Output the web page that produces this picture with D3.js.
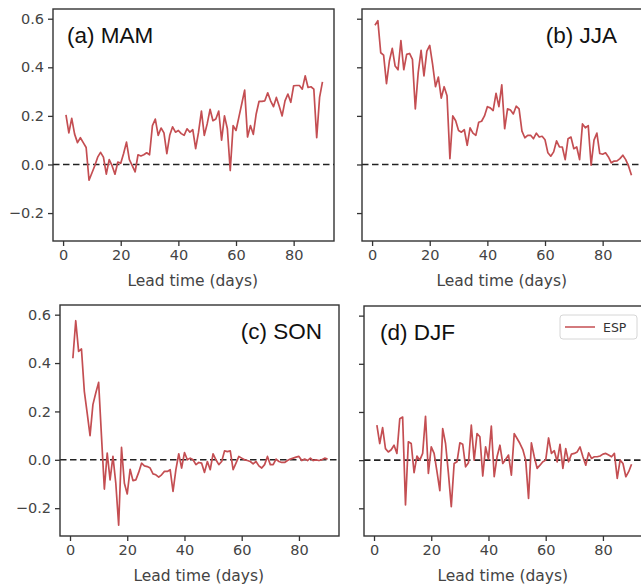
<!DOCTYPE html>
<html>
<head>
<meta charset="utf-8">
<script src="https://cdn.jsdelivr.net/npm/d3@7"></script>
<style>
  body { margin: 0; background: #fff; }
  .tick text { font-family: "DejaVu Sans", sans-serif; font-size: 14.5px; fill: #444; }
  .xlabel { font-family: "DejaVu Sans", sans-serif; font-size: 15.5px; fill: #444; }
  .ptitle { font-family: "Liberation Sans", Arial, sans-serif; font-size: 22.5px; fill: #111; }
  .legend text { font-family: "DejaVu Sans", sans-serif; font-size: 12.5px; fill: #333; }
</style>
</head>
<body>
<div id="chart"></div>
<script>
var width = 641,
    height = 585;

// lead time 1..90 days
var leadDays = d3.range(1, 91);

var mam = [0.204,0.13,0.19,0.125,0.09,0.11,0.09,0.07,-0.065,-0.035,
  -0.005,0.03,0.05,0.03,-0.04,0.02,-0.005,-0.04,0.01,0.005,
  0.045,0.092,0.02,-0.005,-0.03,0.04,0.035,0.04,0.048,0.04,
  0.16,0.187,0.12,0.15,0.13,0.045,0.12,0.155,0.133,0.14,
  0.127,0.12,0.147,0.133,0.143,0.065,0.133,0.22,0.12,0.167,
  0.227,0.18,0.187,0.22,0.1,0.2,0.147,-0.025,0.16,0.14,
  0.195,0.25,0.306,0.113,0.16,0.124,0.208,0.26,0.26,0.262,
  0.295,0.262,0.238,0.276,0.24,0.2,0.262,0.29,0.256,0.324,
  0.325,0.325,0.31,0.365,0.317,0.32,0.31,0.11,0.276,0.34];

var jja = [0.573,0.592,0.46,0.45,0.333,0.426,0.478,0.405,0.39,0.51,
  0.39,0.453,0.457,0.433,0.229,0.378,0.47,0.365,0.467,0.49,
  0.412,0.32,0.36,0.273,0.32,0.283,0.024,0.2,0.18,0.14,
  0.133,0.143,0.079,0.151,0.129,0.12,0.174,0.178,0.2,0.238,
  0.233,0.222,0.293,0.238,0.328,0.147,0.229,0.224,0.208,0.24,
  0.229,0.137,0.11,0.12,0.12,0.106,0.129,0.113,0.116,0.102,
  0.048,0.034,0.052,0.097,0.072,0.072,0.02,0.106,0.113,0.065,
  0.072,0.02,0.167,0.151,0.16,-0.003,0.1,0.129,0.045,0.042,
  0.048,0.031,0.007,0.014,0.015,0.024,0.038,0.02,-0.007,-0.044];

var son = [0.42,0.575,0.448,0.458,0.283,0.193,0.1,0.228,0.276,0.32,
  0.097,-0.121,0.028,-0.083,0.014,-0.097,-0.27,0.051,-0.097,-0.141,
  -0.039,-0.086,-0.083,-0.052,-0.014,-0.025,-0.028,-0.034,-0.058,-0.062,
  -0.072,-0.062,-0.048,-0.048,-0.041,-0.131,-0.041,0.025,-0.034,0.03,
  0,0.007,0,-0.02,-0.011,-0.014,-0.052,-0.007,-0.041,0.025,
  0,-0.02,-0.007,0.037,0.034,0.037,-0.041,-0.014,0.014,0.007,
  0,-0.003,-0.007,-0.017,-0.007,-0.025,-0.034,-0.02,0.014,-0.02,
  -0.02,0.003,-0.007,-0.011,-0.011,-0.003,0.003,0.007,0.011,0.014,
  -0.003,0.003,-0.003,0.007,-0.003,0,-0.003,0,0.007,0.003];

var djf = [0.145,0.069,0.135,0.048,0.034,0.043,0.062,0.028,0.172,0.179,
  -0.186,0.076,0.069,-0.052,0.017,0,0.028,0.182,-0.055,0.055,
  0.028,-0.048,-0.127,0.131,0.069,-0.055,-0.193,-0.014,-0.007,0.072,
  0.066,-0.028,-0.011,0.145,0,0.11,0.097,-0.066,0.055,0.003,
  0.141,-0.069,0.014,0.062,-0.014,0.003,0.021,-0.062,0.11,0.09,
  0.069,0.044,0,-0.159,0.072,0.014,-0.034,-0.021,-0.007,0,
  0.092,0.028,0.039,-0.007,0.066,-0.034,0.048,-0.007,0.025,0.028,
  0.034,0.055,0.014,-0.021,0.03,0.007,0.014,0.014,0.017,0.025,
  0.028,0.021,0.014,0.028,-0.076,0,-0.014,-0.069,-0.048,-0.017];

var panelTitles = ["(a) MAM", "(b) JJA", "(c) SON", "(d) DJF"];
var panelSeries = [mam, jja, son, djf];
var yTicks = [-0.2, 0.0, 0.2, 0.4, 0.6];
var xTicks = [0, 20, 40, 60, 80];
var legendLabel = "ESP";
var xLabel = "Lead time (days)";

// layout of the four axes boxes
var boxes = [
  {left: 53,  top: 9,   w: 281, h: 232, ylabels: true,  titleX: 14,  anchor: "start"},
  {left: 362, top: 9,   w: 281, h: 232, ylabels: false, titleX: 255, anchor: "end"},
  {left: 60,  top: 305, w: 279, h: 231, ylabels: true,  titleX: 262, anchor: "end"},
  {left: 364, top: 306, w: 279, h: 230, ylabels: false, titleX: 16,  anchor: "start"}
];

var lineColor = "#c44e52";

var svg = d3.select("#chart").append("svg")
    .attr("width", width)
    .attr("height", height);

boxes.forEach(function(b, i) {
  var x = d3.scaleLinear().domain([-3.5, 94]).range([0, b.w]);
  var y = d3.scaleLinear().domain([-0.315, 0.64]).range([b.h, 0]);

  var g = svg.append("g")
      .attr("transform", "translate(" + b.left + "," + b.top + ")");

  var data = leadDays.map(function(d, k) { return {day: d, v: panelSeries[i][k]}; });

  // zero reference
  g.append("line")
    .attr("x1", 0).attr("x2", b.w)
    .attr("y1", y(0)).attr("y2", y(0))
    .attr("stroke", "#222")
    .attr("stroke-width", 1.6)
    .attr("stroke-dasharray", "6.5,3.5");

  g.append("path")
    .datum(data)
    .attr("fill", "none")
    .attr("stroke", lineColor)
    .attr("stroke-width", 1.7)
    .attr("stroke-linejoin", "round")
    .attr("d", d3.line()
      .x(function(d) { return x(d.day); })
      .y(function(d) { return y(d.v); }));

  var xAxis = g.append("g")
      .attr("transform", "translate(0," + b.h + ")")
      .call(d3.axisBottom(x).tickValues(xTicks).tickSize(5).tickPadding(4)
        .tickFormat(d3.format("d")));

  var yAxis = g.append("g")
      .call(d3.axisLeft(y).tickValues(yTicks).tickSize(5).tickPadding(4)
        .tickFormat(b.ylabels ? function(d) { return d3.format(".1f")(d).replace("-", "\u2212"); } : ""));

  [xAxis, yAxis].forEach(function(ax) {
    ax.select(".domain").remove();
    ax.selectAll(".tick line").attr("stroke", "#333").attr("stroke-width", 1.3);
  });

  // frame
  g.append("rect")
    .attr("x", 0).attr("y", 0)
    .attr("width", b.w).attr("height", b.h)
    .attr("fill", "none")
    .attr("stroke", "#333")
    .attr("stroke-width", 1.4);

  g.append("text")
    .attr("class", "xlabel")
    .attr("x", x(45))
    .attr("y", b.h + 45)
    .attr("text-anchor", "middle")
    .text(xLabel);

  g.append("text")
    .attr("class", "ptitle")
    .attr("x", b.titleX)
    .attr("y", 34)
    .attr("text-anchor", b.anchor)
    .text(panelTitles[i]);

  if (i === 3) {
    var lg = g.append("g").attr("class", "legend")
        .attr("transform", "translate(" + (b.w - 83) + ",9)");
    lg.append("rect")
      .attr("width", 77).attr("height", 24)
      .attr("rx", 3)
      .attr("fill", "#fff")
      .attr("stroke", "#d6d6d6");
    lg.append("line")
      .attr("x1", 5).attr("x2", 35)
      .attr("y1", 12).attr("y2", 12)
      .attr("stroke", lineColor).attr("stroke-width", 1.5);
    lg.append("text")
      .attr("x", 43).attr("y", 16.5)
      .text(legendLabel);
  }
});
</script>
</body>
</html>
